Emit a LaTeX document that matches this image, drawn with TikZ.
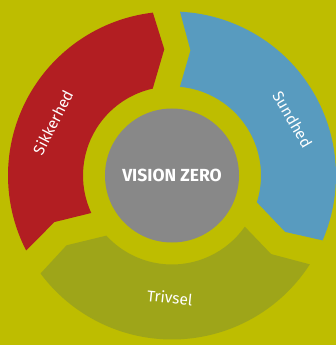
\documentclass[tikz,border=0pt]{standalone}
\usepackage{fontspec}
\setmainfont{Fira Sans}
\usepackage{tikz}
\usetikzlibrary{calc,positioning}
\definecolor{bgolive}{RGB}{190,189,0}
\definecolor{safered}{RGB}{178,30,34}
\definecolor{healthblue}{RGB}{88,155,191}
\definecolor{wellolive}{RGB}{158,165,25}
\definecolor{coregray}{RGB}{136,136,136}
\tikzset{%
	ringpart/.style = {draw=none},
	ringlabel/.style= {text=white, font=\fontsize{15.5}{16}\selectfont, inner sep=0pt},
	core/.style     = {circle, fill=coregray, minimum size=134pt, inner sep=0pt, text=white, font=\fontsize{17.5}{18}\selectfont\bfseries},
}
% one arrow-shaped part of the ring, turned by #2 degrees
\newcommand{\ringsector}[2]{%
	\fill[ringpart,#1,rotate=#2] (87.2:164) -- (81.6:126.5) -- (84.9:89)
		arc[start angle=84.9, end angle=-17.5, radius=89]
		-- (-26.5:126.5) -- (-23.3:164)
		arc[start angle=-23.3, end angle=87.2, radius=164] -- cycle;}
\begin{document}
\begin{tikzpicture}[x=1pt,y=1pt]
	\fill[bgolive] (-172,-169.5) rectangle (164,175.5);  % background
	\useasboundingbox (-172,-169.5) rectangle (164,175.5);
	\ringsector{healthblue}{0}    % Sundhed
	\ringsector{safered}{120}     % Sikkerhed
	\ringsector{wellolive}{240}   % Trivsel
	\node[core] (vision) at (0,0) {VISION ZERO};
	\node[ringlabel,rotate=63] (safety) at (156:130.5) {Sikkerhed};
	\node[ringlabel,rotate=-60] (health) at (25:133) {Sundhed};
	\node[ringlabel,rotate=-6] (wellbeing) at (269:122) {Trivsel};
\end{tikzpicture}
\end{document}
